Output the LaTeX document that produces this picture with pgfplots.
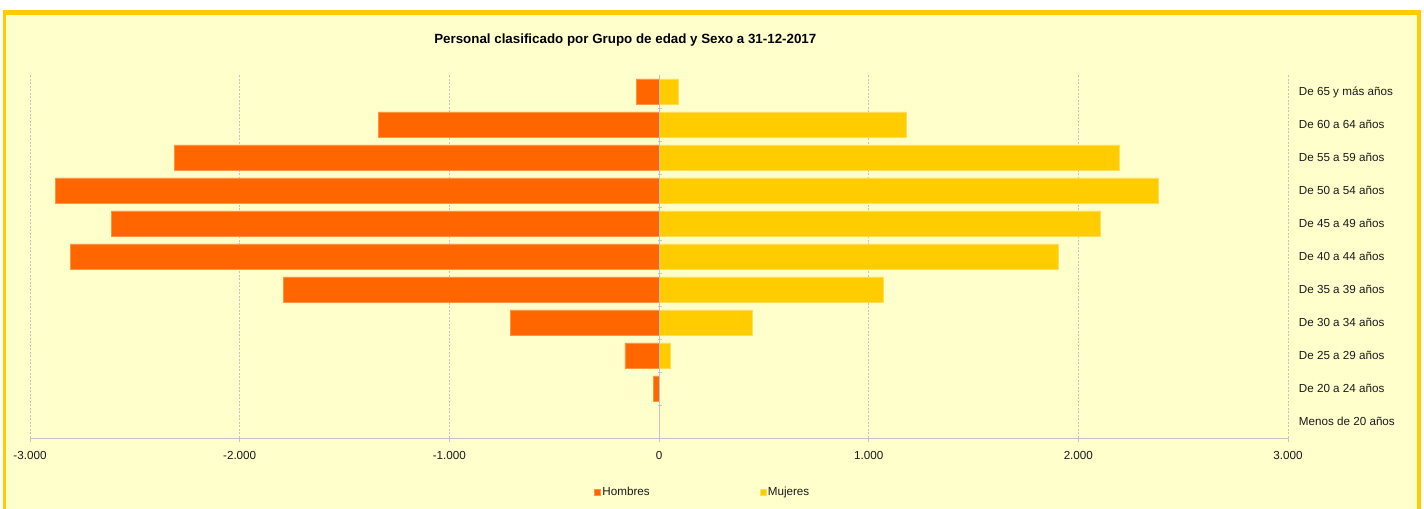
\documentclass[border=0pt]{standalone}
\usepackage{pgfplots}
\pgfplotsset{compat=1.18}
\usepackage{fontspec}
\setmainfont{Liberation Sans}
\definecolor{cream}{HTML}{FFFFCC}
\definecolor{gold}{HTML}{FFCC00}
\definecolor{orng}{HTML}{FF6600}
\definecolor{orngedge}{HTML}{FF9440}
\definecolor{goldedge}{HTML}{FFDD55}
\definecolor{gridc}{HTML}{C4C4C4}
\definecolor{txt}{HTML}{1A1A1A}
\pgfplotstableread{
y  h
1  -25
2  -163
3  -710
4  -1792
5  -2809
6  -2611
7  -2879
8  -2312
9  -1340
10 -109
}\hombres
\pgfplotstableread{
y  m
2  55
3  443
4  1070
5  1905
6  2106
7  2382
8  2197
9  1179
10 92
}\mujeres
\begin{document}
\begin{tikzpicture}[x=1bp,y=1bp]
\fill[white] (0,0) rectangle (1424,509);
\fill[gold] (3,0) rectangle (1421,499);
\fill[cream] (6,0) rectangle (1417,494);
\node[font=\fontsize{13.4}{16}\selectfont\bfseries, text=black, anchor=base, inner sep=0] at (625.3,465.7) {Personal clasificado por Grupo de edad y Sexo a 31-12-2017};
\begin{axis}[
  at={(30bp,71bp)}, anchor=south west,
  scale only axis, width=1258bp, height=363bp,
  xmin=-3000, xmax=3000, ymin=-0.5, ymax=10.5,
  axis x line*=bottom, axis y line*=right,
  y axis line style={draw=none},
  x axis line style={gridc, line width=0.8bp},
  tick align=outside,
  major tick length=4bp,
  xtick={-3000,-2000,-1000,0,1000,2000,3000},
  xticklabels={-3.000,-2.000,-1.000,0,1.000,2.000,3.000},
  xtick style={gridc, line width=0.8bp},
  ytick style={draw=none},
  ytick={0,1,2,3,4,5,6,7,8,9,10},
  yticklabels={Menos de 20 años, De 20 a 24 años, De 25 a 29 años, De 30 a 34 años, De 35 a 39 años, De 40 a 44 años, De 45 a 49 años, De 50 a 54 años, De 55 a 59 años, De 60 a 64 años, De 65 y más años},
  ticklabel style={font=\fontsize{11.7}{14}\selectfont, text=txt, inner sep=0},
  xticklabel style={anchor=base, yshift=-17.3bp},
  yticklabel style={anchor=base west, xshift=6.7bp, yshift=-4.5bp},
  xmajorgrids,
  major grid style={gridc, dash pattern=on 2bp off 1.5bp, line width=0.7bp},
  legend columns=2,
  legend style={at={(0.4486,-0.149)}, anchor=west, draw=none, fill=none, inner sep=0, outer sep=0,
    font=\fontsize{11.7}{14}\selectfont, text=txt,
    nodes={inner sep=0},
    /tikz/every odd column/.append style={column sep=1.5bp},
    /tikz/every even column/.append style={column sep=110bp}},
  legend image code/.code={\fill[#1] (0bp,-3.2bp) rectangle (6bp,3.2bp);},
]
\addplot[xbar, bar width=25bp, bar shift=0pt, fill=orng, draw=orngedge, line width=0.6bp] table[x=h, y=y] {\hombres};
\addlegendentry{Hombres}
\addplot[xbar, bar width=25bp, bar shift=0pt, fill=gold, draw=goldedge, line width=0.6bp] table[x=m, y=y] {\mujeres};
\addlegendentry{Mujeres}
\draw[gridc, line width=0.8bp] (axis cs:0,-0.5) -- (axis cs:0,10.5);
\pgfplotsinvokeforeach{0.5,1.5,2.5,3.5,4.5,5.5,6.5,7.5,8.5,9.5}{
  \draw[gridc, line width=0.8bp] (axis cs:-5,#1) -- (axis cs:15,#1);
}
\end{axis}
\end{tikzpicture}
\end{document}
